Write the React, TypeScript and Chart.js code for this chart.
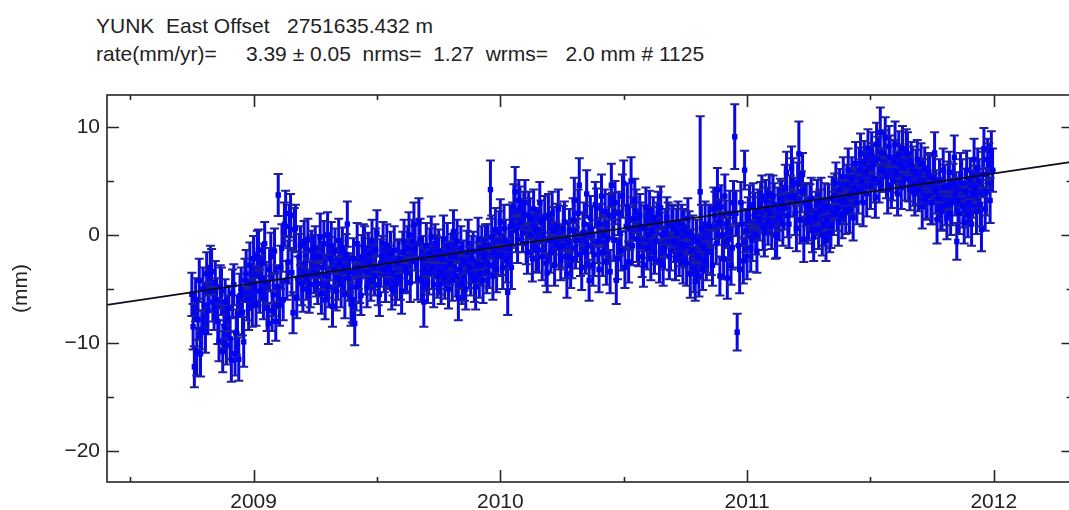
import React, { useEffect, useRef } from 'react';
import { Chart, registerables } from 'chart.js';

Chart.register(...registerables);

const TITLE_LINE_1 = 'YUNK  East Offset   2751635.432 m';
const TITLE_LINE_2 = 'rate(mm/yr)=     3.39 \u00b1 0.05  nrms=  1.27  wrms=   2.0 mm # 1125';
const Y_AXIS_TITLE = '(mm)';

const X_MAJOR_TICKS = [2009, 2010, 2011, 2012];
const Y_MAJOR_TICKS = [10, 0, -10, -20];
const X_RANGE = [2008.406, 2012.323];
const Y_RANGE = [-22.87, 12.96];

// linear fit (rate 3.39 mm/yr)
const FIT_EPOCHS = [2008.406, 2012.323];
const FIT_VALUES = [-6.48, 6.8];

// decimal-year epochs
const epochs = [
  2008.75, 2008.755, 2008.76, 2008.765, 2008.77, 2008.775, 2008.78, 2008.785, 2008.79, 2008.795,
  2008.8, 2008.805, 2008.81, 2008.815, 2008.82, 2008.825, 2008.83, 2008.835, 2008.84, 2008.845,
  2008.85, 2008.855, 2008.86, 2008.865, 2008.87, 2008.875, 2008.88, 2008.885, 2008.89, 2008.895,
  2008.9, 2008.905, 2008.91, 2008.915, 2008.92, 2008.925, 2008.93, 2008.935, 2008.94, 2008.945,
  2008.95, 2008.955, 2008.96, 2008.965, 2008.97, 2008.975, 2008.98, 2008.985, 2008.99, 2008.995,
  2009.0, 2009.005, 2009.01, 2009.015, 2009.02, 2009.025, 2009.03, 2009.035, 2009.04, 2009.045,
  2009.05, 2009.055, 2009.06, 2009.065, 2009.07, 2009.075, 2009.08, 2009.085, 2009.09, 2009.095,
  2009.1, 2009.105, 2009.11, 2009.115, 2009.12, 2009.125, 2009.13, 2009.135, 2009.14, 2009.145,
  2009.15, 2009.155, 2009.16, 2009.165, 2009.17, 2009.175, 2009.18, 2009.185, 2009.19, 2009.195,
  2009.2, 2009.205, 2009.21, 2009.215, 2009.22, 2009.225, 2009.23, 2009.235, 2009.24, 2009.245,
  2009.25, 2009.255, 2009.26, 2009.265, 2009.27, 2009.275, 2009.28, 2009.285, 2009.29, 2009.295,
  2009.3, 2009.305, 2009.31, 2009.315, 2009.32, 2009.325, 2009.33, 2009.335, 2009.34, 2009.345,
  2009.35, 2009.355, 2009.36, 2009.365, 2009.37, 2009.375, 2009.38, 2009.385, 2009.39, 2009.395,
  2009.4, 2009.405, 2009.41, 2009.415, 2009.42, 2009.425, 2009.43, 2009.435, 2009.44, 2009.445,
  2009.45, 2009.455, 2009.46, 2009.465, 2009.47, 2009.475, 2009.48, 2009.485, 2009.49, 2009.495,
  2009.5, 2009.505, 2009.51, 2009.515, 2009.52, 2009.525, 2009.53, 2009.535, 2009.54, 2009.545,
  2009.55, 2009.555, 2009.56, 2009.565, 2009.57, 2009.575, 2009.58, 2009.585, 2009.59, 2009.595,
  2009.6, 2009.605, 2009.61, 2009.615, 2009.62, 2009.625, 2009.63, 2009.635, 2009.64, 2009.645,
  2009.65, 2009.655, 2009.66, 2009.665, 2009.67, 2009.675, 2009.68, 2009.685, 2009.69, 2009.695,
  2009.7, 2009.705, 2009.71, 2009.715, 2009.72, 2009.725, 2009.73, 2009.735, 2009.74, 2009.745,
  2009.75, 2009.755, 2009.76, 2009.765, 2009.77, 2009.775, 2009.78, 2009.785, 2009.79, 2009.795,
  2009.8, 2009.805, 2009.81, 2009.815, 2009.82, 2009.825, 2009.83, 2009.835, 2009.84, 2009.845,
  2009.85, 2009.855, 2009.86, 2009.865, 2009.87, 2009.875, 2009.88, 2009.885, 2009.89, 2009.895,
  2009.9, 2009.905, 2009.91, 2009.915, 2009.92, 2009.925, 2009.93, 2009.935, 2009.94, 2009.945,
  2009.95, 2009.955, 2009.96, 2009.965, 2009.97, 2009.975, 2009.98, 2009.985, 2009.99, 2009.995,
  2010.0, 2010.005, 2010.01, 2010.015, 2010.02, 2010.025, 2010.03, 2010.035, 2010.04, 2010.045,
  2010.05, 2010.055, 2010.06, 2010.065, 2010.07, 2010.075, 2010.08, 2010.085, 2010.09, 2010.095,
  2010.1, 2010.105, 2010.11, 2010.115, 2010.12, 2010.125, 2010.13, 2010.135, 2010.14, 2010.145,
  2010.15, 2010.155, 2010.16, 2010.165, 2010.17, 2010.175, 2010.18, 2010.185, 2010.19, 2010.195,
  2010.2, 2010.205, 2010.21, 2010.215, 2010.22, 2010.225, 2010.23, 2010.235, 2010.24, 2010.245,
  2010.25, 2010.255, 2010.26, 2010.265, 2010.27, 2010.275, 2010.28, 2010.285, 2010.29, 2010.295,
  2010.3, 2010.305, 2010.31, 2010.315, 2010.32, 2010.325, 2010.33, 2010.335, 2010.34, 2010.345,
  2010.35, 2010.355, 2010.36, 2010.365, 2010.37, 2010.375, 2010.38, 2010.385, 2010.39, 2010.395,
  2010.4, 2010.405, 2010.41, 2010.415, 2010.42, 2010.425, 2010.43, 2010.435, 2010.44, 2010.445,
  2010.45, 2010.455, 2010.46, 2010.465, 2010.47, 2010.475, 2010.48, 2010.485, 2010.49, 2010.495,
  2010.5, 2010.505, 2010.51, 2010.515, 2010.52, 2010.525, 2010.53, 2010.535, 2010.54, 2010.545,
  2010.55, 2010.555, 2010.56, 2010.565, 2010.57, 2010.575, 2010.58, 2010.585, 2010.59, 2010.595,
  2010.6, 2010.605, 2010.61, 2010.615, 2010.62, 2010.625, 2010.63, 2010.635, 2010.64, 2010.645,
  2010.65, 2010.655, 2010.66, 2010.665, 2010.67, 2010.675, 2010.68, 2010.685, 2010.69, 2010.695,
  2010.7, 2010.705, 2010.71, 2010.715, 2010.72, 2010.725, 2010.73, 2010.735, 2010.74, 2010.745,
  2010.75, 2010.755, 2010.76, 2010.765, 2010.77, 2010.775, 2010.78, 2010.785, 2010.79, 2010.795,
  2010.8, 2010.805, 2010.81, 2010.815, 2010.82, 2010.825, 2010.83, 2010.835, 2010.84, 2010.845,
  2010.85, 2010.855, 2010.86, 2010.865, 2010.87, 2010.875, 2010.88, 2010.885, 2010.89, 2010.895,
  2010.9, 2010.905, 2010.91, 2010.915, 2010.92, 2010.925, 2010.93, 2010.935, 2010.94, 2010.945,
  2010.95, 2010.955, 2010.96, 2010.965, 2010.97, 2010.975, 2010.98, 2010.985, 2010.99, 2010.995,
  2011.0, 2011.005, 2011.01, 2011.015, 2011.02, 2011.025, 2011.03, 2011.035, 2011.04, 2011.045,
  2011.05, 2011.055, 2011.06, 2011.065, 2011.07, 2011.075, 2011.08, 2011.085, 2011.09, 2011.095,
  2011.1, 2011.105, 2011.11, 2011.115, 2011.12, 2011.125, 2011.13, 2011.135, 2011.14, 2011.145,
  2011.15, 2011.155, 2011.16, 2011.165, 2011.17, 2011.175, 2011.18, 2011.185, 2011.19, 2011.195,
  2011.2, 2011.205, 2011.21, 2011.215, 2011.22, 2011.225, 2011.23, 2011.235, 2011.24, 2011.245,
  2011.25, 2011.255, 2011.26, 2011.265, 2011.27, 2011.275, 2011.28, 2011.285, 2011.29, 2011.295,
  2011.3, 2011.305, 2011.31, 2011.315, 2011.32, 2011.325, 2011.33, 2011.335, 2011.34, 2011.345,
  2011.35, 2011.355, 2011.36, 2011.365, 2011.37, 2011.375, 2011.38, 2011.385, 2011.39, 2011.395,
  2011.4, 2011.405, 2011.41, 2011.415, 2011.42, 2011.425, 2011.43, 2011.435, 2011.44, 2011.445,
  2011.45, 2011.455, 2011.46, 2011.465, 2011.47, 2011.475, 2011.48, 2011.485, 2011.49, 2011.495,
  2011.5, 2011.505, 2011.51, 2011.515, 2011.52, 2011.525, 2011.53, 2011.535, 2011.54, 2011.545,
  2011.55, 2011.555, 2011.56, 2011.565, 2011.57, 2011.575, 2011.58, 2011.585, 2011.59, 2011.595,
  2011.6, 2011.605, 2011.61, 2011.615, 2011.62, 2011.625, 2011.63, 2011.635, 2011.64, 2011.645,
  2011.65, 2011.655, 2011.66, 2011.665, 2011.67, 2011.675, 2011.68, 2011.685, 2011.69, 2011.695,
  2011.7, 2011.705, 2011.71, 2011.715, 2011.72, 2011.725, 2011.73, 2011.735, 2011.74, 2011.745,
  2011.75, 2011.755, 2011.76, 2011.765, 2011.77, 2011.775, 2011.78, 2011.785, 2011.79, 2011.795,
  2011.8, 2011.805, 2011.81, 2011.815, 2011.82, 2011.825, 2011.83, 2011.835, 2011.84, 2011.845,
  2011.85, 2011.855, 2011.86, 2011.865, 2011.87, 2011.875, 2011.88, 2011.885, 2011.89, 2011.895,
  2011.9, 2011.905, 2011.91, 2011.915, 2011.92, 2011.925, 2011.93, 2011.935, 2011.94, 2011.945,
  2011.95, 2011.955, 2011.96, 2011.965, 2011.97, 2011.975, 2011.98, 2011.985, 2011.99, 2011.995,
];

// east offset (mm)
const eastMm = [
  -5.5, -8.5, -12.2, -6.0, -10.8, -7.8, -4.2, -11.0, -8.8, -5.0,
  -6.5, -9.0, -3.6, -7.0, -5.2, -3.0, -3.4, -6.2, -6.8, -4.4,
  -6.0, -8.0, -9.8, -4.8, -5.2, -10.8, -8.5, -6.2, -10.2, -7.6,
  -6.8, -9.6, -11.6, -5.4, -4.6, -11.0, -9.0, -7.4, -11.5, -5.6,
  -5.0, -7.2, -9.9, -4.2, -3.6, -6.0, -6.8, -2.8, -4.5, -6.5,
  -2.2, -4.8, -6.4, -1.8, -1.4, -5.2, -4.0, -2.6, -5.8, -0.8,
  -4.5, -6.8, -8.2, -3.2, -2.0, -7.0, -5.5, -1.5, -8.0, -4.8,
  3.7, -6.5, -3.0, -1.2, -6.0, 1.0, 2.0, -4.2, -2.5, 0.8,
  1.8, -3.5, -7.2, 0.5, 0.6, -5.8, -4.0, -2.0, -1.0, -4.5,
  -5.0, -0.6, -2.6, -3.8, -0.4, -5.2, -4.6, -1.4, -2.0, -3.4,
  -1.2, -3.6, -4.5, -2.0, -0.2, -5.4, -3.0, -0.8, -6.0, -3.8,
  0.0, -4.8, -2.2, -1.0, -6.6, -3.2, -1.5, -5.2, -4.0, -0.5,
  -2.5, -4.6, -1.2, -3.2, -5.5, -1.8, 1.0, -4.0, -3.5, -6.4,
  -6.0, -2.2, -8.2, -4.8, -0.8, -3.0, -4.2, -5.6, -2.0, -1.0,
  -1.2, -3.4, -4.8, -1.8, -2.5, -4.2, -0.6, -3.0, -3.8, -1.4,
  0.2, -4.6, -5.5, -2.6, -2.0, -0.8, -3.2, -4.4, -1.0, -2.8,
  -3.0, -1.8, -5.0, -3.6, -1.4, -4.6, -4.0, -2.6, -2.2, -4.0,
  -5.2, -1.6, -0.6, -3.0, -3.5, -1.2, 0.0, -4.4, -2.4, -0.6,
  1.0, -1.2, -2.5, -4.0, 1.2, -0.4, -4.2, -2.2, -6.2, -3.2,
  -1.0, -4.4, -3.5, -1.6, -0.2, -3.0, -4.6, -0.8, -2.0, -3.8,
  -1.5, -3.4, -4.5, -2.2, -0.4, -4.0, -3.0, -1.0, -5.0, -2.6,
  -2.0, -4.2, 0.3, -2.0, -3.8, -0.6, -5.8, -3.2, -1.2, -4.4,
  -2.5, -4.0, -5.0, -1.6, -0.8, -3.0, -3.6, -2.2, -1.5, -4.2,
  -4.8, -2.6, -0.4, -3.6, -2.8, -1.2, -4.2, -2.0, -1.0, -3.4,
  -1.0, -2.8, 4.2, -0.2, -3.8, -1.6, 0.5, -3.2, -2.0, 0.2,
  1.2, -1.8, -3.0, 0.6, -0.5, -2.4, -5.3, -1.2, 0.8, -3.0,
  1.0, 2.6, 4.0, 0.4, -0.4, 3.2, 2.5, 1.2, 0.2, 2.0,
  3.0, -0.8, -1.6, 1.8, 1.5, 0.0, -2.2, 2.4, 0.5, -1.4,
  0.5, -1.4, 3.0, 1.2, -2.0, 0.0, 1.6, -2.6, -3.5, 1.8,
  -0.5, -1.6, 2.0, 0.4, -2.8, -0.8, 0.8, 2.4, -1.2, -2.2,
  -1.0, 0.6, 1.2, -2.0, -3.6, -0.6, 0.4, -2.8, -2.2, 1.4,
  3.2, -1.2, -0.5, 2.0, 4.6, -1.8, -3.0, 0.2, 1.0, -1.6,
  3.8, -1.0, -4.2, 1.6, 0.5, -2.8, -1.8, 2.8, 2.5, -0.6,
  -3.2, 1.0, 3.6, -1.6, 0.0, 2.2, -2.5, -0.4, 1.8, -3.4,
  4.6, 1.8, -0.5, 3.0, -4.2, -2.2, 2.0, 0.2, -1.5, 3.6,
  4.8, -3.0, 0.8, 2.6, -2.5, 0.6, 5.0, -1.0, 1.5, 3.2,
  2.2, -0.4, -1.0, 1.8, 0.8, -2.0, -2.8, 0.6, 2.6, -1.2,
  0.0, 2.2, -2.2, 0.4, 1.6, -1.6, -0.6, 1.2, 2.0, -2.4,
  2.5, 0.0, -2.8, -1.2, 0.2, 1.6, 1.0, -2.0, -1.5, 0.8,
  0.6, -0.6, -2.2, 0.2, 1.2, -1.8, -0.8, 1.0, -2.5, 0.4,
  -1.0, -2.6, 1.5, 0.2, -3.6, -1.4, -0.2, -3.2, -4.3, -0.6,
  -2.0, -3.8, 4.0, 0.6, -3.2, -1.2, 1.0, -2.4, -1.5, 0.8,
  0.8, -1.6, -2.8, 2.4, 1.8, -0.8, 4.2, 1.2, -3.8, 2.6,
  0.0, -2.2, 3.6, 1.0, -4.0, -0.4, 2.0, -2.8, -1.2, 3.0,
  9.1, 2.0, -9.0, -1.0, -3.2, 3.0, 1.0, -2.4, 6.0, 0.4,
  -2.0, 1.6, 2.6, -1.2, -0.5, 2.8, 1.8, 0.0, -1.5, 2.2,
  1.5, 2.8, 3.6, 0.6, 0.2, 3.2, 2.4, 1.2, 3.8, 2.0,
  0.8, 3.6, 2.8, 0.0, -0.2, 2.4, 1.6, 3.4, 3.0, 1.0,
  2.5, 4.4, 5.8, 1.8, 1.0, 3.6, 6.2, 5.0, 3.5, 2.0,
  0.6, 4.8, 7.5, 1.4, 4.0, 5.6, -0.4, 3.0, 2.8, 1.2,
  1.5, 2.6, 3.4, 0.4, -0.2, 1.6, 2.0, 3.0, 0.5, 2.2,
  3.2, 0.0, 1.0, 2.6, -0.5, 1.4, 2.6, 0.2, 0.8, 3.4,
  2.0, 3.6, 4.8, 2.4, 1.2, 4.2, 3.2, 1.8, 5.4, 3.0,
  2.2, 4.6, 6.0, 2.4, 3.8, 5.2, 1.6, 4.4, 6.6, 3.0,
  4.0, 6.0, 7.5, 5.0, 3.0, 6.8, 5.8, 3.8, 8.0, 6.2,
  4.5, 7.6, 6.5, 5.2, 3.5, 8.4, 7.0, 4.8, 9.5, 6.0,
  6.0, 7.6, 9.0, 5.4, 4.2, 8.2, 7.2, 4.6, 5.0, 6.8,
  8.4, 5.8, 3.8, 7.4, 6.5, 4.4, 8.0, 6.2, 5.2, 7.8,
  7.5, 5.2, 4.2, 6.6, 6.0, 4.6, 3.8, 5.8, 7.0, 4.2,
  5.0, 6.6, 2.6, 4.8, 6.2, 3.4, 3.6, 5.8, 5.4, 3.0,
  3.0, 5.2, 7.6, 4.0, 1.4, 3.4, 5.0, 2.6, 2.2, 6.0,
  4.4, 2.8, 1.6, 4.6, 5.8, 2.0, 3.0, 4.8, 7.2, 3.8,
  -0.6, 3.2, 2.0, 5.6, 4.8, 2.6, 1.2, 4.0, 6.0, 1.8,
  3.0, 5.2, 1.0, 3.8, 7.0, 4.4, 2.2, 6.2, 5.0, 2.8,
  0.5, 5.6, 8.0, 2.4, 4.0, 7.0, 6.5, 3.2, 7.8, 6.0,
];

// one-sigma uncertainty (mm)
const sigmaMm = [
  2.0, 2.1, 1.9, 2.0, 2.2, 1.9, 2.0, 2.1, 1.8, 2.0,
  2.1, 1.9, 2.0, 2.2, 1.9, 2.0, 2.1, 1.8, 2.0, 2.0,
  2.0, 2.1, 1.9, 2.0, 2.2, 1.9, 2.0, 2.1, 1.8, 2.0,
  2.1, 1.9, 2.0, 2.2, 1.9, 2.0, 2.1, 1.8, 2.0, 2.0,
  2.0, 2.1, 2.3, 2.0, 2.2, 1.9, 2.0, 2.1, 1.8, 2.0,
  2.1, 1.9, 2.0, 2.2, 1.9, 2.0, 2.1, 1.8, 2.0, 2.0,
  2.0, 2.1, 1.9, 2.0, 2.2, 1.9, 2.0, 2.1, 1.8, 2.0,
  1.95, 1.9, 2.0, 2.2, 1.9, 2.0, 2.1, 1.8, 2.0, 2.0,
  2.0, 2.1, 1.9, 2.0, 2.2, 1.9, 2.0, 2.1, 1.8, 2.0,
  2.1, 1.9, 2.0, 2.2, 1.9, 2.0, 2.1, 1.8, 2.0, 2.0,
  2.0, 2.1, 1.9, 2.0, 2.2, 1.9, 2.0, 2.1, 1.8, 2.0,
  2.1, 1.9, 2.0, 2.2, 1.9, 2.0, 2.1, 1.8, 2.0, 2.0,
  2.0, 2.1, 1.9, 2.0, 2.2, 1.9, 2.1, 2.1, 1.8, 2.0,
  2.1, 1.9, 2.0, 2.2, 1.9, 2.0, 2.1, 1.8, 2.0, 2.0,
  2.0, 2.1, 1.9, 2.0, 2.2, 1.9, 2.0, 2.1, 1.8, 2.0,
  2.1, 1.9, 2.0, 2.2, 1.9, 2.0, 2.1, 1.8, 2.0, 2.0,
  2.0, 2.1, 1.9, 2.0, 2.2, 1.9, 2.0, 2.1, 1.8, 2.0,
  2.1, 1.9, 2.0, 2.2, 1.9, 2.0, 2.1, 1.8, 2.0, 2.0,
  2.0, 2.1, 1.9, 2.0, 2.2, 1.9, 2.0, 2.1, 2.3, 2.0,
  2.1, 1.9, 2.0, 2.2, 1.9, 2.0, 2.1, 1.8, 2.0, 2.0,
  2.0, 2.1, 1.9, 2.0, 2.2, 1.9, 2.0, 2.1, 1.8, 2.0,
  2.1, 1.9, 2.0, 2.2, 1.9, 2.0, 2.1, 1.8, 2.0, 2.0,
  2.0, 2.1, 1.9, 2.0, 2.2, 1.9, 2.0, 2.1, 1.8, 2.0,
  2.1, 1.9, 2.0, 2.2, 1.9, 2.0, 2.1, 1.8, 2.0, 2.0,
  2.0, 2.1, 2.7, 2.0, 2.2, 1.9, 2.0, 2.1, 1.8, 2.0,
  2.1, 1.9, 2.0, 2.2, 1.9, 2.0, 2.1, 1.8, 2.0, 2.0,
  2.0, 2.1, 2.3, 2.0, 2.2, 1.9, 2.0, 2.1, 1.8, 2.0,
  2.1, 1.9, 2.0, 2.2, 1.9, 2.0, 2.1, 1.8, 2.0, 2.0,
  2.0, 2.1, 1.9, 2.0, 2.2, 1.9, 2.0, 2.1, 1.8, 2.0,
  2.1, 1.9, 2.0, 2.2, 1.9, 2.0, 2.1, 1.8, 2.0, 2.0,
  2.0, 2.1, 1.9, 2.0, 2.2, 1.9, 2.0, 2.1, 1.8, 2.0,
  2.1, 1.9, 2.0, 2.2, 2.5, 2.0, 2.1, 1.8, 2.0, 2.0,
  2.2, 2.1, 1.9, 2.0, 2.2, 1.9, 2.0, 2.1, 1.8, 2.0,
  2.1, 1.9, 2.0, 2.2, 1.9, 2.0, 2.1, 1.8, 2.0, 2.0,
  2.0, 2.1, 1.9, 2.0, 2.2, 1.9, 2.0, 2.1, 1.8, 2.0,
  2.1, 1.9, 2.0, 2.2, 1.9, 2.0, 2.2, 1.8, 2.0, 2.0,
  2.0, 2.1, 1.9, 2.0, 2.2, 1.9, 2.0, 2.1, 1.8, 2.0,
  2.1, 1.9, 2.0, 2.2, 1.9, 2.0, 2.1, 1.8, 2.0, 2.0,
  2.0, 2.1, 1.9, 2.0, 2.2, 1.9, 2.0, 2.1, 1.8, 2.0,
  2.1, 1.9, 2.0, 2.2, 1.9, 2.0, 2.1, 1.8, 2.0, 2.0,
  2.0, 2.1, 1.9, 2.0, 2.2, 1.9, 2.0, 2.1, 1.8, 2.0,
  2.1, 1.9, 7.0, 2.2, 1.9, 2.0, 2.1, 1.8, 2.0, 2.0,
  2.0, 2.1, 1.9, 2.0, 2.2, 1.9, 2.0, 2.1, 1.8, 2.0,
  2.1, 1.9, 2.0, 2.2, 1.9, 2.0, 2.1, 1.8, 2.0, 2.0,
  3.0, 2.1, 1.7, 2.0, 2.2, 1.9, 2.0, 2.1, 1.8, 2.0,
  2.1, 1.9, 2.0, 2.2, 1.9, 2.0, 2.1, 1.8, 2.0, 2.0,
  2.0, 2.1, 1.9, 2.0, 2.2, 1.9, 2.0, 2.1, 1.8, 2.0,
  2.1, 1.9, 2.0, 2.2, 1.9, 2.0, 2.1, 1.8, 2.0, 2.0,
  2.0, 2.1, 1.9, 2.0, 2.2, 1.9, 2.0, 2.1, 1.8, 2.0,
  2.1, 1.9, 3.0, 2.2, 1.9, 2.0, 2.1, 1.8, 2.0, 2.0,
  2.0, 2.1, 1.9, 2.0, 2.2, 1.9, 2.0, 2.1, 1.8, 2.0,
  2.1, 1.9, 2.0, 2.2, 1.9, 2.0, 2.1, 1.8, 2.0, 2.0,
  2.0, 2.1, 1.9, 2.0, 2.2, 1.9, 2.0, 2.1, 1.8, 2.0,
  2.1, 1.9, 2.0, 2.2, 1.9, 2.0, 2.1, 1.8, 2.0, 2.0,
  2.0, 2.1, 1.9, 2.0, 2.2, 1.9, 2.0, 2.1, 1.8, 2.0,
  2.1, 1.9, 2.0, 2.2, 1.9, 2.0, 2.1, 1.8, 2.3, 2.0,
  2.0, 2.1, 1.9, 2.0, 2.2, 1.9, 2.0, 2.1, 1.8, 2.0,
  2.1, 1.9, 2.0, 2.2, 1.9, 2.0, 2.1, 1.8, 2.0, 2.0,
  2.0, 2.1, 1.9, 2.0, 2.2, 1.9, 2.0, 2.1, 1.8, 2.0,
  2.1, 1.9, 2.0, 2.2, 1.9, 2.0, 2.1, 1.8, 2.0, 2.0,
  2.0, 2.1, 1.9, 2.0, 2.2, 1.9, 2.0, 2.1, 1.8, 2.0,
  2.1, 1.9, 2.0, 2.2, 1.9, 2.0, 2.1, 1.8, 2.0, 2.0,
  1.7, 2.1, 1.9, 2.0, 2.2, 1.9, 2.0, 2.1, 1.8, 2.0,
  2.1, 1.9, 2.0, 2.2, 1.9, 2.0, 2.1, 1.8, 2.0, 2.0,
  2.0, 2.1, 1.9, 2.0, 2.2, 1.9, 2.0, 2.1, 1.8, 2.0,
];

const FONT = '"Liberation Sans", Arial, Helvetica, sans-serif';
const TEXT_COLOR = '#222222';

const isNear = (list: number[], v: number) => list.some((m) => Math.abs(m - v) < 1e-6);

const frameAndTicksPlugin = {
  id: 'frameAndTicks',
  afterDatasetsDraw(chart: any) {
    const { ctx, chartArea: a, scales } = chart;
    ctx.save();
    ctx.strokeStyle = '#262626';
    ctx.lineWidth = 1.6;
    ctx.strokeRect(a.left, a.top, a.right - a.left, a.bottom - a.top);
    ctx.beginPath();
    scales.x.ticks.forEach((t: any) => {
      const px = Math.round(scales.x.getPixelForValue(t.value)) + 0.5;
      const len = isNear(X_MAJOR_TICKS, t.value) ? 12 : 5;
      ctx.moveTo(px, a.bottom);
      ctx.lineTo(px, a.bottom - len);
      ctx.moveTo(px, a.top);
      ctx.lineTo(px, a.top + len);
    });
    scales.y.ticks.forEach((t: any) => {
      const py = Math.round(scales.y.getPixelForValue(t.value)) + 0.5;
      const len = isNear(Y_MAJOR_TICKS, t.value) ? 12 : 7;
      ctx.moveTo(a.left, py);
      ctx.lineTo(a.left + len, py);
      ctx.moveTo(a.right, py);
      ctx.lineTo(a.right - len, py);
    });
    ctx.stroke();
    ctx.restore();
  },
};

export default function App() {
  const canvasRef = useRef<HTMLCanvasElement | null>(null);

  useEffect(() => {
    if (!canvasRef.current) return;

    const whiskers: { x: number; y: number | null }[] = [];
    epochs.forEach((t, i) => {
      whiskers.push({ x: t, y: eastMm[i] - sigmaMm[i] });
      whiskers.push({ x: t, y: eastMm[i] + sigmaMm[i] });
      whiskers.push({ x: t, y: null });
    });
    const points = epochs.map((t, i) => ({ x: t, y: eastMm[i] }));
    const fit = FIT_EPOCHS.map((t, i) => ({ x: t, y: FIT_VALUES[i] }));

    const chart = new Chart(canvasRef.current, {
      type: 'scatter',
      data: {
        datasets: [
          {
            label: 'fit',
            data: fit,
            showLine: true,
            borderColor: '#0c0c1c',
            borderWidth: 1.8,
            pointRadius: 0,
            order: 0,
          } as any,
          {
            label: 'east',
            data: points,
            pointStyle: 'rect',
            pointRadius: 3.8,
            backgroundColor: '#0000f0',
            borderColor: '#0000f0',
            borderWidth: 0,
            order: 1,
          } as any,
          {
            label: 'sigma',
            data: whiskers,
            showLine: true,
            spanGaps: false,
            borderColor: '#0808e4',
            borderWidth: 3,
            pointStyle: 'line',
            pointRadius: 4.5,
            pointBorderWidth: 2,
            pointBorderColor: '#1e1ea0',
            pointBackgroundColor: '#1e1ea0',
            order: 2,
          } as any,
        ],
      },
      options: {
        responsive: false,
        animation: false,
        events: [],
        layout: { padding: { top: 95, right: 4, bottom: 0, left: 0 } },
        plugins: {
          legend: { display: false },
          title: { display: false },
          tooltip: { enabled: false },
        },
        scales: {
          x: {
            type: 'linear',
            min: X_RANGE[0],
            max: X_RANGE[1],
            grid: { display: false, drawTicks: false },
            border: { display: false },
            ticks: {
              stepSize: 0.5,
              includeBounds: false,
              autoSkip: false,
              maxRotation: 0,
              padding: 8,
              color: TEXT_COLOR,
              font: { family: FONT, size: 21 },
              callback: (v: any) => (isNear(X_MAJOR_TICKS, Number(v)) ? String(Math.round(Number(v))) : ''),
            },
            afterFit: (scale: any) => {
              scale.height = 28;
            },
          },
          y: {
            type: 'linear',
            min: Y_RANGE[0],
            max: Y_RANGE[1],
            grid: { display: false, drawTicks: false },
            border: { display: false },
            title: {
              display: true,
              text: Y_AXIS_TITLE,
              color: TEXT_COLOR,
              font: { family: FONT, size: 21 },
              padding: { top: 9, bottom: 0 },
            },
            ticks: {
              stepSize: 5,
              includeBounds: false,
              autoSkip: false,
              padding: 7,
              color: TEXT_COLOR,
              font: { family: FONT, size: 21 },
              callback: (v: any) => {
                const n = Number(v);
                if (!isNear(Y_MAJOR_TICKS, n)) return '';
                const r = Math.round(n);
                return r < 0 ? '\u2212' + Math.abs(r) : String(r);
              },
            },
            afterFit: (scale: any) => {
              scale.width = 107;
            },
          },
        },
      } as any,
      plugins: [frameAndTicksPlugin],
    });

    return () => chart.destroy();
  }, []);

  return (
    <div
      style={{
        position: 'absolute',
        left: 0,
        top: 0,
        width: 1069,
        height: 510,
        overflow: 'hidden',
        background: '#ffffff',
      }}
    >
      <div
        style={{
          position: 'absolute',
          left: 96,
          top: 12,
          font: `21px ${FONT}`,
          lineHeight: '28.4px',
          whiteSpace: 'pre',
          color: TEXT_COLOR,
        }}
      >
        <div>{TITLE_LINE_1}</div>
        <div>{TITLE_LINE_2}</div>
      </div>
      <canvas
        ref={canvasRef}
        width={1080}
        height={510}
        style={{ position: 'absolute', left: 0, top: 0, width: 1080, height: 510 }}
      />
    </div>
  );
}
